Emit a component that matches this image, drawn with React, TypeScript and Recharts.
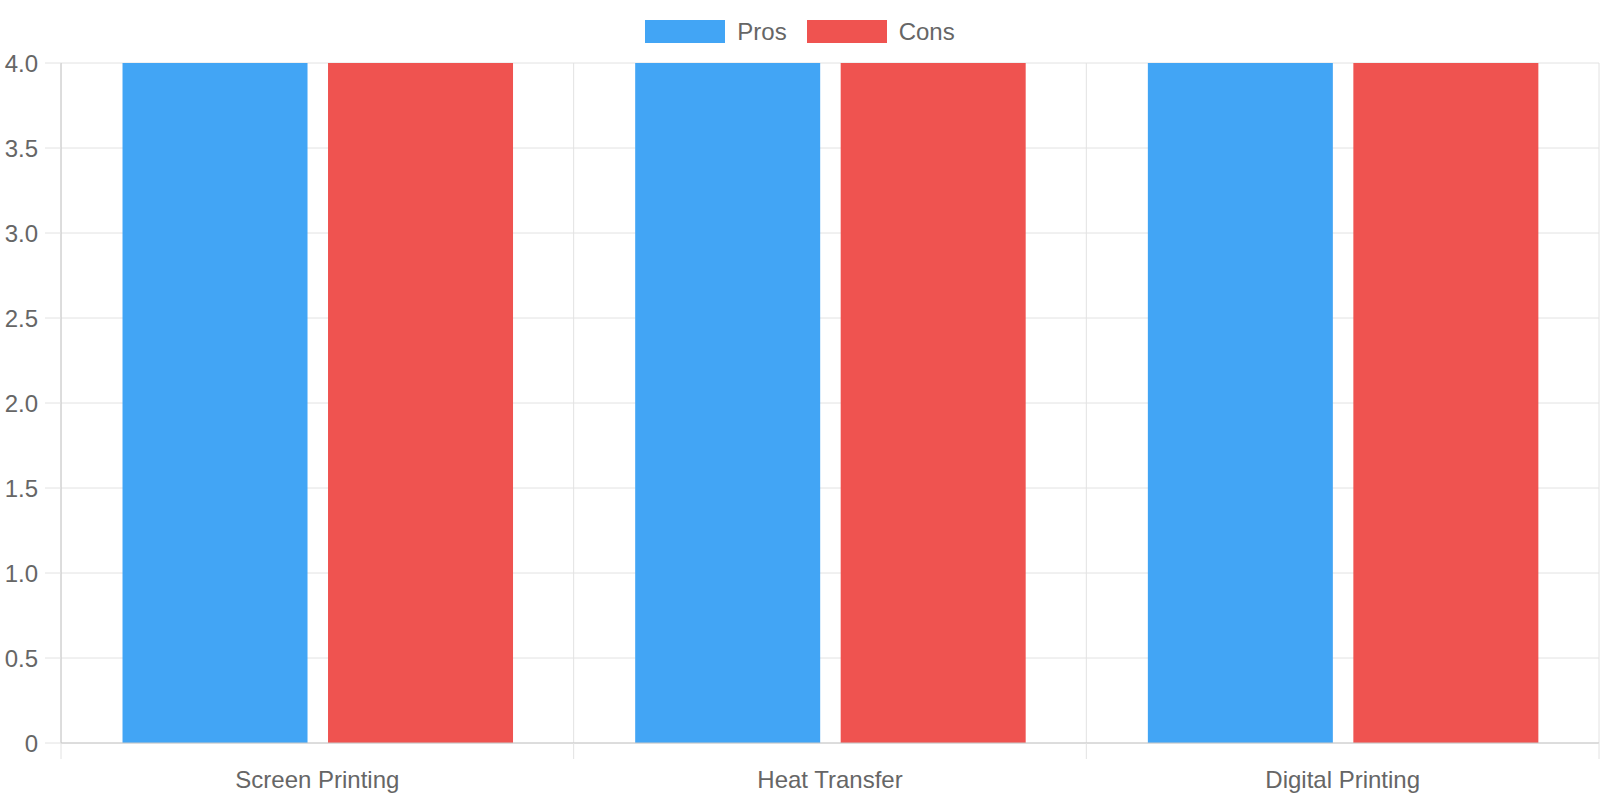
import React from 'react';
import { BarChart, Bar, XAxis, YAxis, CartesianGrid, Legend } from 'recharts';

const categories = ['Screen Printing', 'Heat Transfer', 'Digital Printing'];
const prosValues = [4, 4, 4];
const consValues = [4, 4, 4];
const yTicks = [0, 0.5, 1, 1.5, 2, 2.5, 3, 3.5, 4];
const seriesOrder = ['pros', 'cons'];
const seriesNames: Record<string, string> = { pros: 'Pros', cons: 'Cons' };
const seriesColors: Record<string, string> = { pros: '#42A5F5', cons: '#EF5350' };

const data = categories.map((name, i) => ({ name, pros: prosValues[i], cons: consValues[i] }));

const CHART_W = 1600;
const CHART_H = 800;
const Y_AXIS_W = 61;
const MARGIN = { top: 0, right: 1, bottom: 0, left: 0 };
const PLOT_W = CHART_W - MARGIN.left - MARGIN.right - Y_AXIS_W;
const TICK_SIZE = 16;
const X_TICK_MARGIN = 20;
const FONT = '"Liberation Sans", Arial, Helvetica, sans-serif';
const TEXT_COLOR = '#666666';
const GRID_COLOR = '#e2e2e2';
const AXIS_COLOR = '#c8c8c8';

function XTick(props: any) {
  const { x, y, payload, index } = props;
  const band = PLOT_W / categories.length;
  const axisY = y - TICK_SIZE - X_TICK_MARGIN;
  const lines = [x - band / 2];
  if (index === categories.length - 1) lines.push(x + band / 2);
  return (
    <g>
      {lines.map((lx, i) => (
        <line key={i} x1={lx} x2={lx} y1={axisY} y2={axisY + TICK_SIZE} stroke={GRID_COLOR} strokeWidth={1} />
      ))}
      <text x={x} y={y} dy={9} textAnchor="middle" fill={TEXT_COLOR} fontSize={24} fontFamily={FONT}>
        {payload.value}
      </text>
    </g>
  );
}

function LegendContent(props: any) {
  const payload = [...(props.payload || [])].sort(
    (a: any, b: any) => seriesOrder.indexOf(a.dataKey) - seriesOrder.indexOf(b.dataKey)
  );
  return (
    <div
      style={{
        height: 63,
        display: 'flex',
        justifyContent: 'center',
        alignItems: 'flex-start',
        paddingTop: 20,
        boxSizing: 'border-box',
        fontFamily: FONT,
      }}
    >
      {payload.map((entry: any, i: number) => (
        <div key={i} style={{ display: 'flex', alignItems: 'center', marginLeft: i === 0 ? 0 : 20, height: 23 }}>
          <div style={{ width: 80, height: 23, background: entry.color }} />
          <span style={{ marginLeft: 12, fontSize: 24, lineHeight: '23px', color: TEXT_COLOR }}>{entry.value}</span>
        </div>
      ))}
    </div>
  );
}

export default function App() {
  return (
    <div style={{ position: 'absolute', left: 0, top: 0, width: CHART_W, height: CHART_H, background: '#fff', fontFamily: FONT }}>
      <BarChart
        width={CHART_W}
        height={CHART_H}
        data={data}
        margin={MARGIN}
        barCategoryGap="12%"
        barGap={20.5}
      >
        <CartesianGrid
          stroke={GRID_COLOR}
          verticalCoordinatesGenerator={({ offset }: any) =>
            [0, 1, 2, 3].map((i) => offset.left + (i * offset.width) / categories.length)
          }
        />
        <Legend
          verticalAlign="top"
          align="center"
          content={<LegendContent />}
          wrapperStyle={{ left: 0, top: 0, width: CHART_W, height: 63 }}
        />
        <XAxis
          dataKey="name"
          height={CHART_H - 743}
          interval={0}
          tickLine={false}
          tickSize={TICK_SIZE}
          tickMargin={X_TICK_MARGIN}
          axisLine={{ stroke: AXIS_COLOR }}
          tick={<XTick />}
        />
        <YAxis
          width={Y_AXIS_W}
          domain={[0, 4]}
          ticks={yTicks}
          interval={0}
          tickSize={TICK_SIZE}
          tickMargin={7}
          tickLine={{ stroke: GRID_COLOR }}
          axisLine={{ stroke: AXIS_COLOR }}
          tick={{ fill: TEXT_COLOR, fontSize: 24, fontFamily: FONT }}
          tickFormatter={(v: number) => (v === 0 ? '0' : v.toFixed(1))}
        />
        <Bar dataKey="pros" name={seriesNames.pros} fill={seriesColors.pros} isAnimationActive={false} />
        <Bar dataKey="cons" name={seriesNames.cons} fill={seriesColors.cons} isAnimationActive={false} />
      </BarChart>
    </div>
  );
}
